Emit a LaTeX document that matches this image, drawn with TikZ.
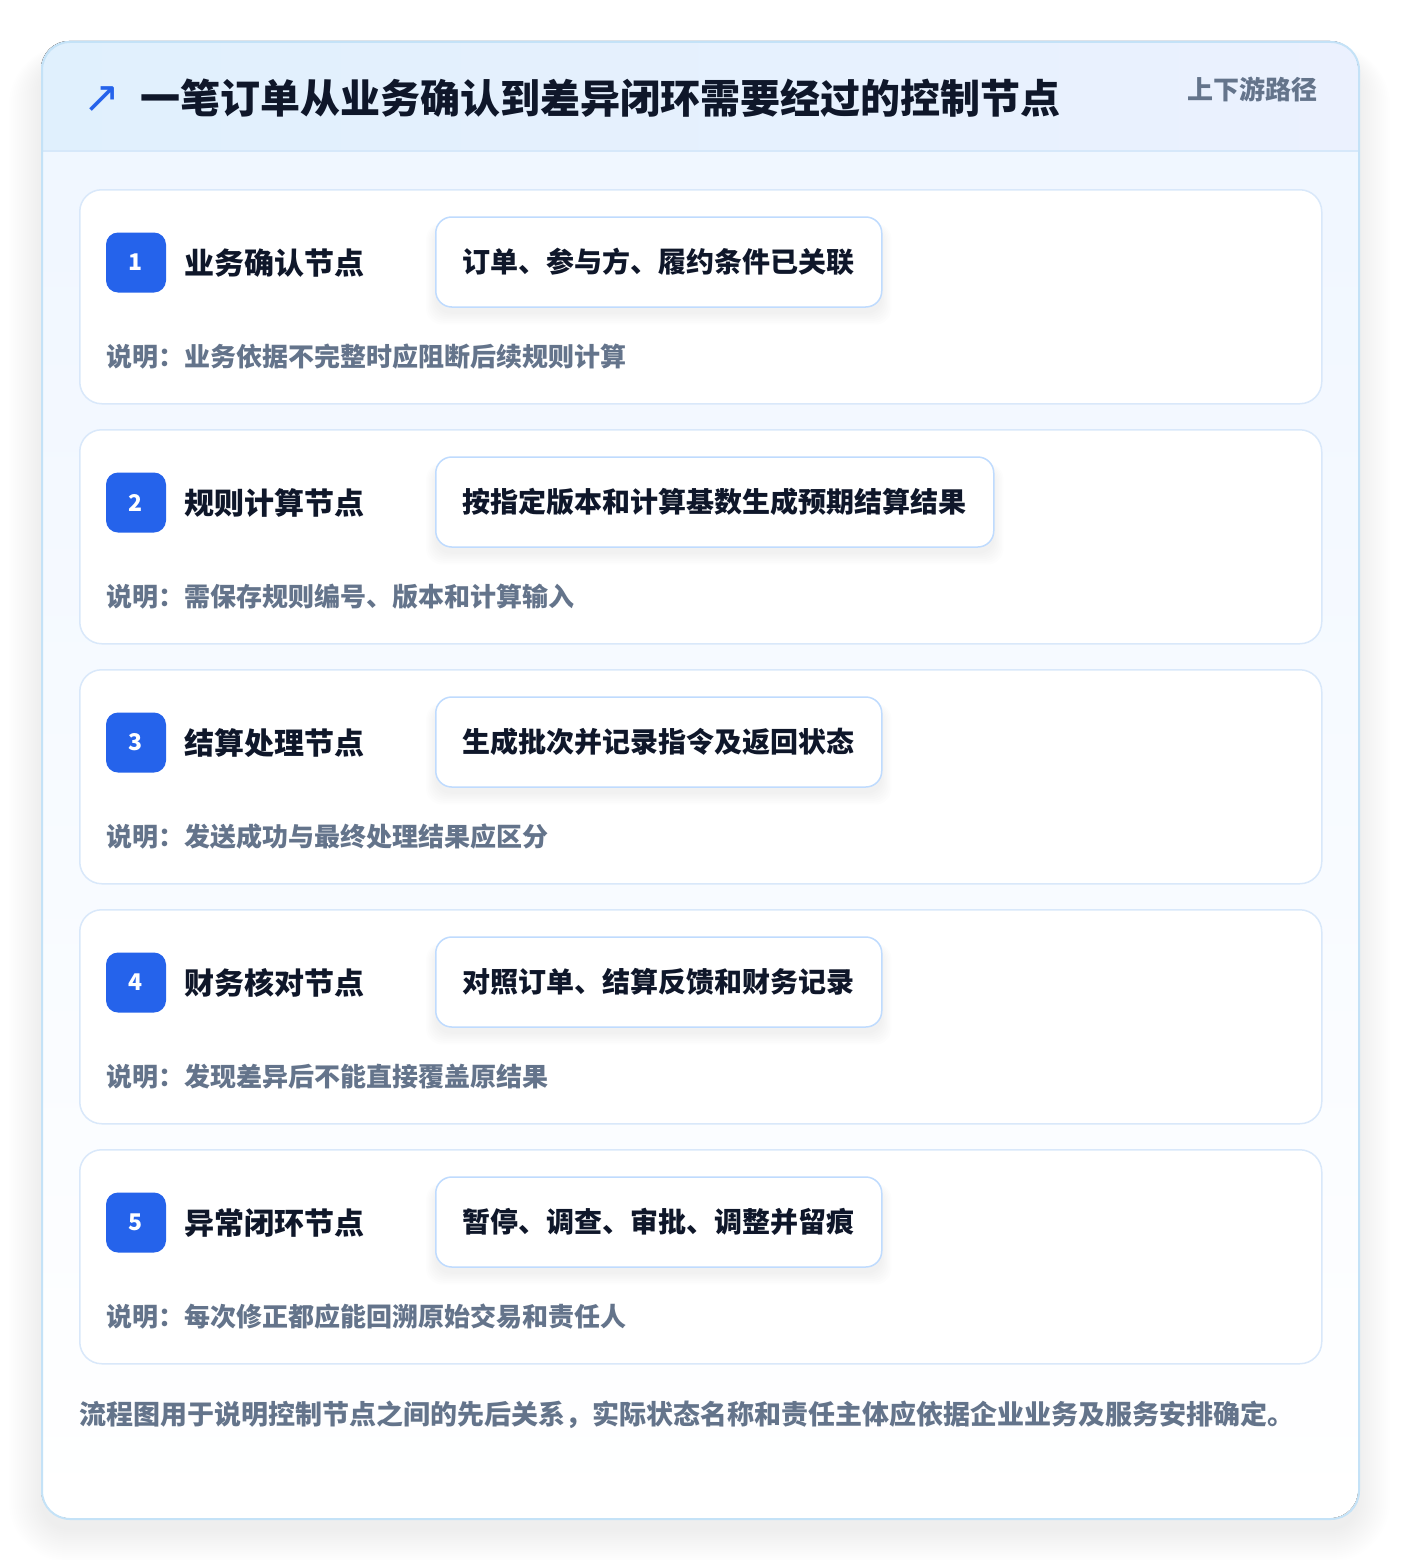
\documentclass[tikz,border=0pt]{standalone}
\usepackage{fontspec}
\setmainfont{Noto Sans CJK SC}
\newfontfamily\symfont{DejaVu Sans}
\definecolor{mainborder}{HTML}{C4E2F7}
\definecolor{hdrleft}{HTML}{E0F0FD}
\definecolor{hdrright}{HTML}{EBF1FE}
\definecolor{bodytop}{HTML}{EFF6FF}
\definecolor{cardborder}{HTML}{D9E8FA}
\definecolor{pillborder}{HTML}{BFDBFE}
\definecolor{badgeblue}{HTML}{2563EB}
\definecolor{inkdark}{HTML}{0F172A}
\definecolor{inkgray}{HTML}{64748B}
\definecolor{sepline}{HTML}{D6E8FA}
\tikzset{
  cardbox/.style={draw=cardborder, line width=1.5pt, fill=white, rounded corners=22pt, minimum width=1242pt, minimum height=214pt, anchor=north west, inner sep=0pt},
  badge/.style={fill=badgeblue, rounded corners=12pt, minimum width=60pt, minimum height=60pt, inner sep=0pt, text=white, font=\fontsize{23}{26}\selectfont\bfseries},
  steptitle/.style={anchor=west, inner sep=0pt, text=inkdark, font=\fontsize{30}{34}\selectfont\bfseries},
  pill/.style={draw=pillborder, line width=1.5pt, fill=white, rounded corners=16pt, minimum height=90pt, inner xsep=27pt, anchor=west, text=inkdark, font=\fontsize{28}{32}\selectfont\bfseries},
  notetext/.style={anchor=west, inner sep=0pt, text=inkgray, font=\fontsize{26}{30}\selectfont\bfseries},
}
\begin{document}
\begin{tikzpicture}[x=1pt,y=-1pt]
\useasboundingbox (0,0) rectangle (1400,1560);
\fill[white] (0,0) rectangle (1400,1560);
% main card shadow
\foreach \i in {0,...,16}{
  \pgfmathsetmacro{\rr}{28+\i*2}
  \fill[black, opacity=0.0045, rounded corners=\rr pt] (41-\i*2,61-\i*1) rectangle (1358+\i*2,1530+\i*2);
}
% main card body
\fill[top color=bodytop, bottom color=white, rounded corners=28pt] (41,41) rectangle (1358,1518);
\begin{scope}
  \clip[rounded corners=28pt] (41,41) rectangle (1358,1518);
  \fill[left color=hdrleft, right color=hdrright] (41,41) rectangle (1358,151);
  \draw[sepline, line width=1.5pt] (41,151) -- (1358,151);
\end{scope}
\node[draw=mainborder, line width=2pt, rounded corners=28pt, minimum width=1317pt, minimum height=1477pt, anchor=north west, inner sep=0pt] (main) at (41,41) {};
% header
\node[anchor=center, inner sep=0pt, text=badgeblue, font=\symfont\fontsize{44}{48}\selectfont] (icon) at (102,100) {↗};
\node[anchor=west, inner sep=0pt, text=inkdark, font=\fontsize{40}{46}\selectfont\bfseries] (title) at (140,98) {一笔订单从业务确认到差异闭环需要经过的控制节点};
\node[anchor=east, inner sep=0pt, text=inkgray, font=\fontsize{26}{30}\selectfont\bfseries] (path) at (1318,89) {上下游路径};
% cards
\foreach \n/\t/\p/\d in {
  1/业务确认节点/订单、参与方、履约条件已关联/说明：业务依据不完整时应阻断后续规则计算,
  2/规则计算节点/按指定版本和计算基数生成预期结算结果/说明：需保存规则编号、版本和计算输入,
  3/结算处理节点/生成批次并记录指令及返回状态/说明：发送成功与最终处理结果应区分,
  4/财务核对节点/对照订单、结算反馈和财务记录/说明：发现差异后不能直接覆盖原结果,
  5/异常闭环节点/暂停、调查、审批、调整并留痕/说明：每次修正都应能回溯原始交易和责任人}{
  \pgfmathsetmacro{\yy}{189+(\n-1)*240}
  \node[cardbox] (card\n) at (79,\yy) {};
  \node[badge] (badge\n) at (136,\yy+73.5) {\n};
  \node[steptitle] (name\n) at (184,\yy+74) {\t};
  \node[pill, opacity=0, text opacity=0] (ghost\n) at (435,\yy+73) {\p};
  \foreach \k in {0,...,6}{
    \fill[black, opacity=0.007, rounded corners=16pt] ([xshift=-\k*1.5pt, yshift=-10pt+\k*0.5pt]ghost\n.north west) rectangle ([xshift=\k*1.5pt, yshift=-6pt-\k*1.8pt]ghost\n.south east);
  }
  \node[pill] (pill\n) at (435,\yy+73) {\p};
  \node[notetext] (note\n) at (106,\yy+168) {\d};
}
% footer
\node[anchor=west, inner sep=0pt, text=inkgray, font=\fontsize{27}{32}\selectfont\bfseries] (footer) at (79,1415) {流程图用于说明控制节点之间的先后关系，实际状态名称和责任主体应依据企业业务及服务安排确定。};
\end{tikzpicture}
\end{document}
